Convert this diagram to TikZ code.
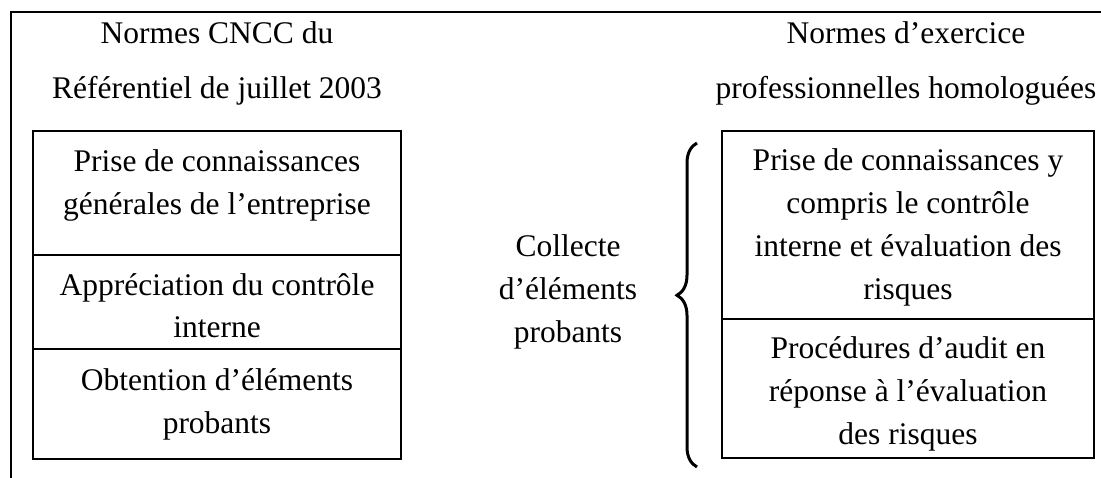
\documentclass[tikz,border=0pt]{standalone}
\usepackage{fontspec}
\setmainfont{Liberation Serif}
\usetikzlibrary{decorations.pathreplacing}
\begin{document}
\begin{tikzpicture}[x=1pt,y=-1pt,
  frame/.style={line width=1.5pt},
  cell/.style={draw, line width=1.5pt, anchor=north west, inner sep=0pt, outer sep=0pt},
  txt/.style={align=center, font=\fontsize{31.5}{43}\selectfont, inner sep=0pt, anchor=base},
  head/.style={align=center, font=\fontsize{31.5}{55}\selectfont, inner sep=0pt, anchor=base},
  bracestyle/.style={line width=3pt, decorate, decoration={brace, amplitude=20pt, aspect=0.53}}]
\useasboundingbox (0,0) rectangle (1101,478);
% outer frame
\coordinate (fa) at (11,478);
\coordinate (fb) at (11,12);
\coordinate (fc) at (1102,12);
\draw[frame] (fa) -- (fb) -- (fc);
% headers (anchor base = baseline of last line)
\node[head] (h1) at (217,99) {Normes CNCC du\\Référentiel de juillet 2003};
\node[head] (h2) at (906,99) {Normes d’exercice\\professionnelles homologuées};
% left cells
\node[cell, minimum width=368pt, minimum height=124pt] (l1) at (33,131) {};
\node[cell, minimum width=368pt, minimum height=94pt] (l2) at (33,255) {};
\node[cell, minimum width=368pt, minimum height=110pt] (l3) at (33,349) {};
\node[txt] (tl1) at ([yshift=-84pt]l1.north) {Prise de connaissances\\générales de l’entreprise};
\node[txt] (tl2) at ([yshift=-83pt]l2.north) {Appréciation du contrôle\\interne};
\node[txt] (tl3) at ([yshift=-84pt]l3.north) {Obtention d’éléments\\probants};
% right cells
\node[cell, minimum width=372pt, minimum height=188pt] (r1) at (722,131) {};
\node[cell, minimum width=372pt, minimum height=139pt] (r2) at (722,319) {};
\node[txt] (tr1) at ([yshift=-169pt]r1.north) {Prise de connaissances y\\compris le contrôle\\interne et évaluation des\\risques};
\node[txt] (tr2) at ([yshift=-125pt]r2.north) {Procédures d’audit en\\réponse à l’évaluation\\des risques};
% middle
\node[txt] (mid) at (568,343) {Collecte\\d’éléments\\probants};
% brace
\coordinate (b1) at (697,467);
\coordinate (b2) at (697,143);
\draw[bracestyle] (b1) -- (b2);
\end{tikzpicture}
\end{document}
